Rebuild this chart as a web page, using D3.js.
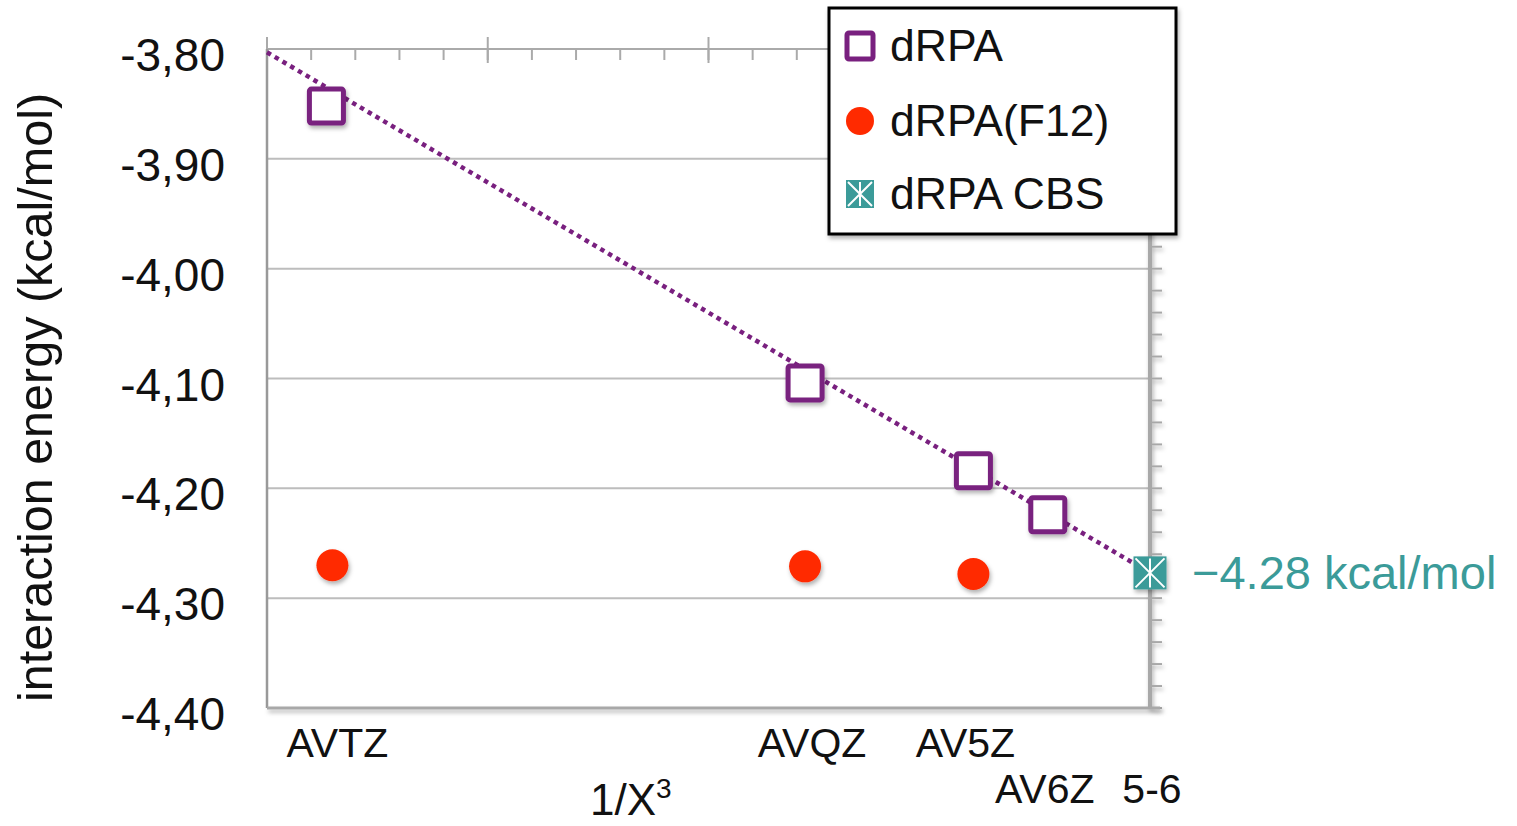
<!DOCTYPE html>
<html>
<head>
<meta charset="utf-8">
<script src="https://cdn.jsdelivr.net/npm/d3@7"></script>
<style>
  body { margin: 0; background: #fff; }
  svg { display: block; font-family: "Liberation Sans", Arial, sans-serif; }
</style>
</head>
<body>
<svg id="chart" width="1517" height="826"></svg>
<script>
// basis sets and their cardinal numbers (x axis is 1/X^3)
const basisLabels = ["AVTZ", "AVQZ", "AV5Z", "AV6Z"];
const cardinal = [3, 4, 5, 6];
const labelRow = [0, 0, 0, 1];

// interaction energies (kcal/mol)
const drpa = [-3.852, -4.104, -4.184, -4.224];
const drpaF12 = [-4.270, -4.271, -4.278];
const cbsValue = -4.277;
const cbsLabel = "\u22124.28 kcal/mol";

// 5-6 extrapolation line, ends of the dotted line
const trendX = [0.04, 0];
const trendY = [-3.803, -4.277];

const yTicks = [-3.8, -3.9, -4.0, -4.1, -4.2, -4.3, -4.4];
const seriesNames = ["dRPA", "dRPA(F12)", "dRPA CBS"];

const purple = "#79207f", red = "#ff2a00", teal = "#3b9b99";

const svg = d3.select("#chart");
const pLeft = 267, pRight = 1150, pTop = 49, pBottom = 708;

const x = d3.scaleLinear().domain([0.04, 0]).range([pLeft, pRight]);
const y = d3.scaleLinear().domain([-4.4, -3.8]).range([pBottom, pTop]);
const invCube = X => 1 / (X * X * X);

const defs = svg.append("defs");
const sh = defs.append("filter").attr("id", "shadow")
    .attr("filterUnits", "userSpaceOnUse")
    .attr("x", 0).attr("y", 0).attr("width", 1517).attr("height", 826);
sh.append("feDropShadow").attr("dx", 1.5).attr("dy", 3).attr("stdDeviation", 2)
    .attr("flood-color", "#000").attr("flood-opacity", 0.3);

// grid lines
svg.append("g").selectAll("line")
  .data(yTicks.filter(t => t > -4.4 && t < -3.8))
  .join("line")
    .attr("x1", pLeft).attr("x2", pRight)
    .attr("y1", d => y(d)).attr("y2", d => y(d))
    .attr("stroke", "#bdbdbd").attr("stroke-width", 2);

// top axis with major/minor ticks
const topG = svg.append("g");
topG.append("line").attr("x1", pLeft).attr("x2", pRight)
    .attr("y1", pTop).attr("y2", pTop).attr("stroke", "#aaa").attr("stroke-width", 2);
topG.selectAll(".minor").data(d3.range(0, 0.0401, 0.002))
  .join("line").attr("class", "minor")
    .attr("x1", d => x(d)).attr("x2", d => x(d))
    .attr("y1", pTop).attr("y2", pTop + 11)
    .attr("stroke", "#aaa").attr("stroke-width", 2);
topG.selectAll(".major").data(x.ticks(4))
  .join("line").attr("class", "major")
    .attr("x1", d => x(d)).attr("x2", d => x(d))
    .attr("y1", pTop - 12).attr("y2", pTop + 14)
    .attr("stroke", "#aaa").attr("stroke-width", 2);

// left axis
svg.append("line").attr("x1", pLeft).attr("x2", pLeft)
    .attr("y1", pTop).attr("y2", pBottom).attr("stroke", "#999").attr("stroke-width", 2.5);

// right axis with minor ticks
const rightG = svg.append("g").attr("filter", "url(#shadow)");
rightG.append("line").attr("x1", pRight).attr("x2", pRight)
    .attr("y1", pTop).attr("y2", pBottom).attr("stroke", "#a8a8a8").attr("stroke-width", 4);
rightG.selectAll(".rt").data(d3.range(-4.4, -3.799, 0.02))
  .join("line").attr("class", "rt")
    .attr("x1", pRight).attr("x2", pRight + 12)
    .attr("y1", d => y(d)).attr("y2", d => y(d))
    .attr("stroke", "#a8a8a8").attr("stroke-width", 2);

// bottom axis
svg.append("line").attr("x1", pLeft).attr("x2", pRight + 10)
    .attr("y1", pBottom).attr("y2", pBottom)
    .attr("stroke", "#a8a8a8").attr("stroke-width", 3).attr("filter", "url(#shadow)");

// y tick labels (hyphen and decimal comma as in the original)
svg.append("g").selectAll("text").data(yTicks).join("text")
    .attr("x", 225).attr("y", d => y(d) + 6).attr("dy", "0.35em")
    .attr("text-anchor", "end").attr("font-size", 46).attr("fill", "#111")
    .text(d => d.toFixed(2).replace(".", ","));

// y title
svg.append("text")
    .attr("transform", `translate(52, ${(pTop + pBottom) / 2 + 19}) rotate(-90)`)
    .attr("text-anchor", "middle").attr("font-size", 48.5).attr("fill", "#111")
    .text("interaction energy (kcal/mol)");

// x category labels
const labelShift = [5, 7, -8, -3];
svg.append("g").selectAll("text").data(basisLabels).join("text")
    .attr("x", (d, i) => x(invCube(cardinal[i])) + labelShift[i])
    .attr("y", (d, i) => labelRow[i] ? 803 : 757)
    .attr("text-anchor", "middle").attr("font-size", 41).attr("fill", "#111")
    .text(d => d);
svg.append("text").attr("x", x(0) + 2).attr("y", 803)
    .attr("text-anchor", "middle").attr("font-size", 41).attr("fill", "#111").text("5-6");

// x title
const xt = svg.append("text").attr("x", 590).attr("y", 815)
    .attr("font-size", 44).attr("fill", "#111");
xt.append("tspan").text("1/X");
xt.append("tspan").attr("font-size", 28).attr("dy", -17).text("3");

// trend line
svg.append("path")
    .datum(trendX.map((v, i) => [v, trendY[i]]))
    .attr("d", d3.line().x(d => x(d[0])).y(d => y(d[1])))
    .attr("fill", "none").attr("stroke", purple).attr("stroke-width", 4.5)
    .attr("stroke-dasharray", "4.5 4.5");

// markers
const sq = 30;
function square(g, cx, cy, s) {
  g.append("rect").attr("x", cx - s / 2).attr("y", cy - s / 2)
      .attr("width", s).attr("height", s).attr("rx", 2)
      .attr("fill", "#fff").attr("stroke", purple).attr("stroke-width", 5);
}
function circle(g, cx, cy, r) {
  g.append("circle").attr("cx", cx).attr("cy", cy).attr("r", r).attr("fill", red);
}
function star(g, cx, cy, s) {
  g.append("rect").attr("x", cx - s / 2).attr("y", cy - s / 2)
      .attr("width", s).attr("height", s).attr("fill", teal);
  const h = s / 2 - 2;
  const p = `M${cx - h},${cy - h}L${cx + h},${cy + h}M${cx + h},${cy - h}L${cx - h},${cy + h}M${cx},${cy - h}L${cx},${cy + h}`;
  g.append("path").attr("d", p).attr("stroke", "#fff").attr("stroke-width", 2).attr("fill", "none");
}

const marks = svg.append("g").attr("filter", "url(#shadow)");
drpaF12.forEach((v, i) => circle(marks, x(invCube(cardinal[i])), y(v), 16));
drpa.forEach((v, i) => square(marks, x(invCube(cardinal[i])) - (i === 0 ? 6 : 0), y(v), sq + 4));
star(marks, x(0), y(cbsValue), 33);

svg.append("text").attr("x", 1192).attr("y", y(cbsValue) + 16)
    .attr("font-size", 47).attr("fill", teal).text(cbsLabel);

// legend
const lg = svg.append("g");
lg.append("rect").attr("x", 829).attr("y", 8).attr("width", 347).attr("height", 226)
    .attr("fill", "#fff").attr("stroke", "#000").attr("stroke-width", 3)
    .attr("filter", "url(#shadow)");
const rowY = [46, 121, 194];
square(lg, 860, rowY[0], 26);
circle(lg, 860, rowY[1], 14);
star(lg, 860, rowY[2], 28);
lg.selectAll(".lt").data(seriesNames).join("text").attr("class", "lt")
    .attr("x", 890).attr("y", (d, i) => rowY[i] + 15)
    .attr("font-size", 44.5).attr("fill", "#111").text(d => d);
</script>
</body>
</html>
